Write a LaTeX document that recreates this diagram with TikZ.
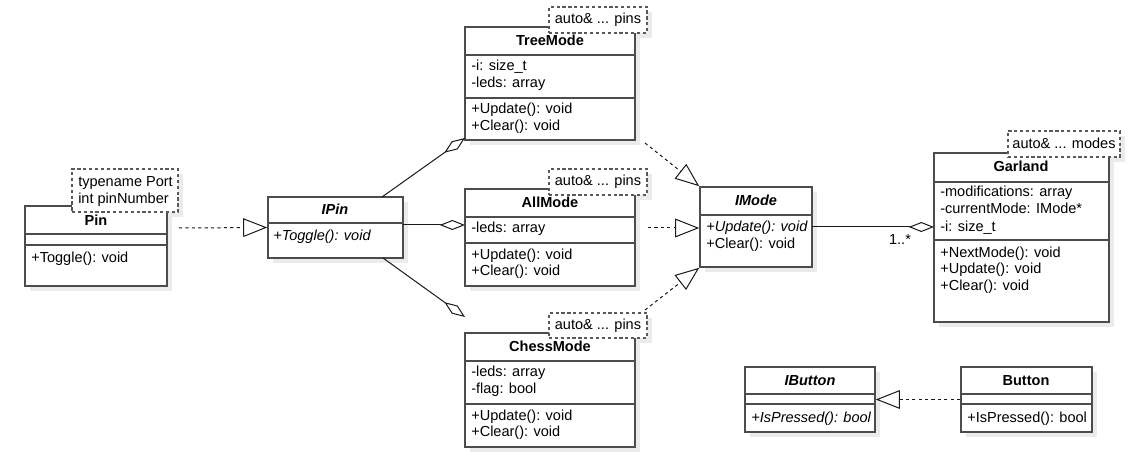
\documentclass[tikz,border=0pt]{standalone}
\usepackage{fontspec}
\setmainfont{Liberation Sans}
\usetikzlibrary{arrows.meta,fit}

\pgfdeclarelayer{paper}
\pgfdeclarelayer{shadows}
\pgfsetlayers{paper,shadows,main}

\tikzset{
  px/.style={x=0.75pt,y=-0.75pt},
  shadowbox/.style={fill=black!8,draw=none},
  classbox/.style={draw=black!70,line width=1.2pt,fill=white,inner sep=0pt,fit={#1}},
  divider/.style={draw=black!70,line width=1.1pt},
  tmplbox/.style={draw=black!65,line width=1.1pt,dash pattern=on 2.4pt off 2pt,fill=white,inner sep=0pt,fit={#1}},
  txt/.style={anchor=base west,inner sep=0pt,font=\fontsize{10.9}{13}\selectfont},
  itxt/.style={txt,font=\fontsize{10.9}{13}\selectfont\itshape},
  ctxt/.style={anchor=base,inner sep=0pt,font=\fontsize{10.9}{13}\selectfont},
  title/.style={ctxt,font=\fontsize{10.9}{13}\selectfont\bfseries},
  ititle/.style={ctxt,font=\fontsize{10.9}{13}\selectfont\bfseries\itshape},
  conn/.style={draw=black!90,line width=0.75pt},
  realize/.style={conn,dash pattern=on 2.4pt off 2.4pt,-{Triangle[open,length=18pt,width=14pt]}},
  aggregate/.style={conn,-{Diamond[open,length=19pt,width=7.5pt]}},
}

% class box, its drop shadow kept behind every box: name, x1, y1, x2, y2
\newcommand\umlclass[5]{%
  \begin{pgfonlayer}{shadows}
    \fill[shadowbox] (#2+5,#3+5) rectangle (#4+5,#5+5);
  \end{pgfonlayer}
  \node[classbox={(#2,#3) (#4,#5)}] (#1) {};
}
% dashed template parameter box: name, x1, y1, x2, y2
\newcommand\umltmpl[5]{%
  \begin{pgfonlayer}{shadows}
    \fill[shadowbox] (#2+5,#3+5) rectangle (#4+5,#5+5);
  \end{pgfonlayer}
  \node[tmplbox={(#2,#3) (#4,#5)}] (#1) {};
}

\begin{document}
\begin{tikzpicture}[px]
\begin{pgfonlayer}{paper}
  \fill[white] (0,0) rectangle (1132,452);
\end{pgfonlayer}
\useasboundingbox (0,0) rectangle (1132,452);

% ---------------- Pin ----------------
\umlclass{pin}{25}{206}{167}{286}
\draw[divider] (25,234) -- (167,234);
\draw[divider] (25,245) -- (167,245);
\node[title] (pinT) at (96,225.5) {Pin};
\node[txt] (pinM1) at (31,262.5) {+Toggle(): void};
\umltmpl{pinTpl}{72}{169}{178}{212}
\node[txt] (pinP1) at (78,187) {typename Port};
\node[txt] (pinP2) at (78,203.3) {int pinNumber};

% ---------------- IPin ----------------
\umlclass{ipin}{268}{197}{403}{258}
\draw[divider] (268,223) -- (403,223);
\node[ititle] (ipinT) at (335,215) {IPin};
\node[itxt] (ipinM1) at (273,241) {+Toggle(): void};

% ---------------- TreeMode ----------------
\umlclass{tree}{465}{27}{635}{140}
\draw[divider] (465,55) -- (635,55);
\draw[divider] (465,98) -- (635,98);
\node[title] (treeT) at (550,45.5) {TreeMode};
\node[txt] (treeA1) at (471,71) {-i: size\_t};
\node[txt] (treeA2) at (471,87.3) {-leds: array};
\node[txt] (treeM1) at (471,113.3) {+Update(): void};
\node[txt] (treeM2) at (471,130.7) {+Clear(): void};
\umltmpl{treeTpl}{549}{7}{647}{33}
\node[ctxt] (treeP) at (598,23.5) {auto\& ... pins};

% ---------------- AllMode ----------------
\umlclass{all}{465}{189}{635}{286}
\draw[divider] (465,217) -- (635,217);
\draw[divider] (465,243) -- (635,243);
\node[title] (allT) at (550,208) {AllMode};
\node[txt] (allA1) at (471,232.7) {-leds: array};
\node[txt] (allM1) at (471,259.3) {+Update(): void};
\node[txt] (allM2) at (471,276) {+Clear(): void};
\umltmpl{allTpl}{549}{169}{647}{195}
\node[ctxt] (allP) at (598,185.7) {auto\& ... pins};

% ---------------- ChessMode ----------------
\umlclass{chess}{465}{333}{635}{447}
\draw[divider] (465,361) -- (635,361);
\draw[divider] (465,404) -- (635,404);
\node[title] (chessT) at (550,352) {ChessMode};
\node[txt] (chessA1) at (471,376.7) {-leds: array};
\node[txt] (chessA2) at (471,393.3) {-flag: bool};
\node[txt] (chessM1) at (471,420) {+Update(): void};
\node[txt] (chessM2) at (471,436.7) {+Clear(): void};
\umltmpl{chessTpl}{549}{313}{647}{338}
\node[ctxt] (chessP) at (598,329.3) {auto\& ... pins};

% ---------------- IMode ----------------
\umlclass{imode}{700}{187}{812}{267}
\draw[divider] (700,215) -- (812,215);
\node[ititle] (imodeT) at (756,206) {IMode};
\node[itxt] (imodeM1) at (706,231.7) {+Update(): void};
\node[txt] (imodeM2) at (706,248.3) {+Clear(): void};

% ---------------- Garland ----------------
\umlclass{garland}{934}{153}{1109}{322}
\draw[divider] (934,182) -- (1109,182);
\draw[divider] (934,240) -- (1109,240);
\node[title] (garT) at (1021,172) {Garland};
\node[txt] (garA1) at (940,196.7) {-modifications: array};
\node[txt] (garA2) at (940,214) {-currentMode: IMode*};
\node[txt] (garA3) at (940,231.7) {-i: size\_t};
\node[txt] (garM1) at (940,257.3) {+NextMode(): void};
\node[txt] (garM2) at (940,274) {+Update(): void};
\node[txt] (garM3) at (940,290.7) {+Clear(): void};
\umltmpl{garTpl}{1008}{131}{1120}{157}
\node[ctxt] (garP) at (1064,148.3) {auto\& ... modes};

% ---------------- IButton / Button ----------------
\umlclass{ibutton}{745}{367}{875}{432}
\draw[divider] (745,394) -- (875,394);
\draw[divider] (745,404) -- (875,404);
\node[ititle] (ibtnT) at (810,386) {IButton};
\node[itxt] (ibtnM1) at (751,422.7) {+IsPressed(): bool};

\umlclass{button}{961}{367}{1092}{432}
\draw[divider] (961,394) -- (1092,394);
\draw[divider] (961,404) -- (1092,404);
\node[title] (btnT) at (1026,386) {Button};
\node[txt] (btnM1) at (967,422.7) {+IsPressed(): bool};

% ---------------- connectors ----------------
\coordinate (pinOut) at (179,228);
\coordinate (ipinTop) at (382,197);
\coordinate (ipinRight) at (403,225);
\coordinate (ipinBot) at (383,258);
\coordinate (treeIn) at (465,138);
\coordinate (allIn) at (465,225);
\coordinate (chessIn) at (465,317);
\coordinate (treeOut) at (645,143);
\coordinate (allOut) at (648,228);
\coordinate (chessOut) at (645,310);
\coordinate (imodeOut) at (812,227);
\coordinate (garIn) at (934,227);
\coordinate (multPos) at (900,245);

\draw[realize] (pinOut) -- (ipin.west);
\draw[aggregate] (ipinTop) -- (treeIn);
\draw[aggregate] (ipinRight) -- (allIn);
\draw[aggregate] (ipinBot) -- (chessIn);
\draw[realize] (treeOut) -- (imode.north west);
\draw[realize] (allOut) -- (imode.west |- allOut);
\draw[realize] (chessOut) -- (imode.south west);
\draw[aggregate] (imodeOut) -- (garIn);
\node[ctxt] (mult) at (multPos) {1..*};
\draw[realize] (button.west) -- (ibutton.east);
\end{tikzpicture}
\end{document}
